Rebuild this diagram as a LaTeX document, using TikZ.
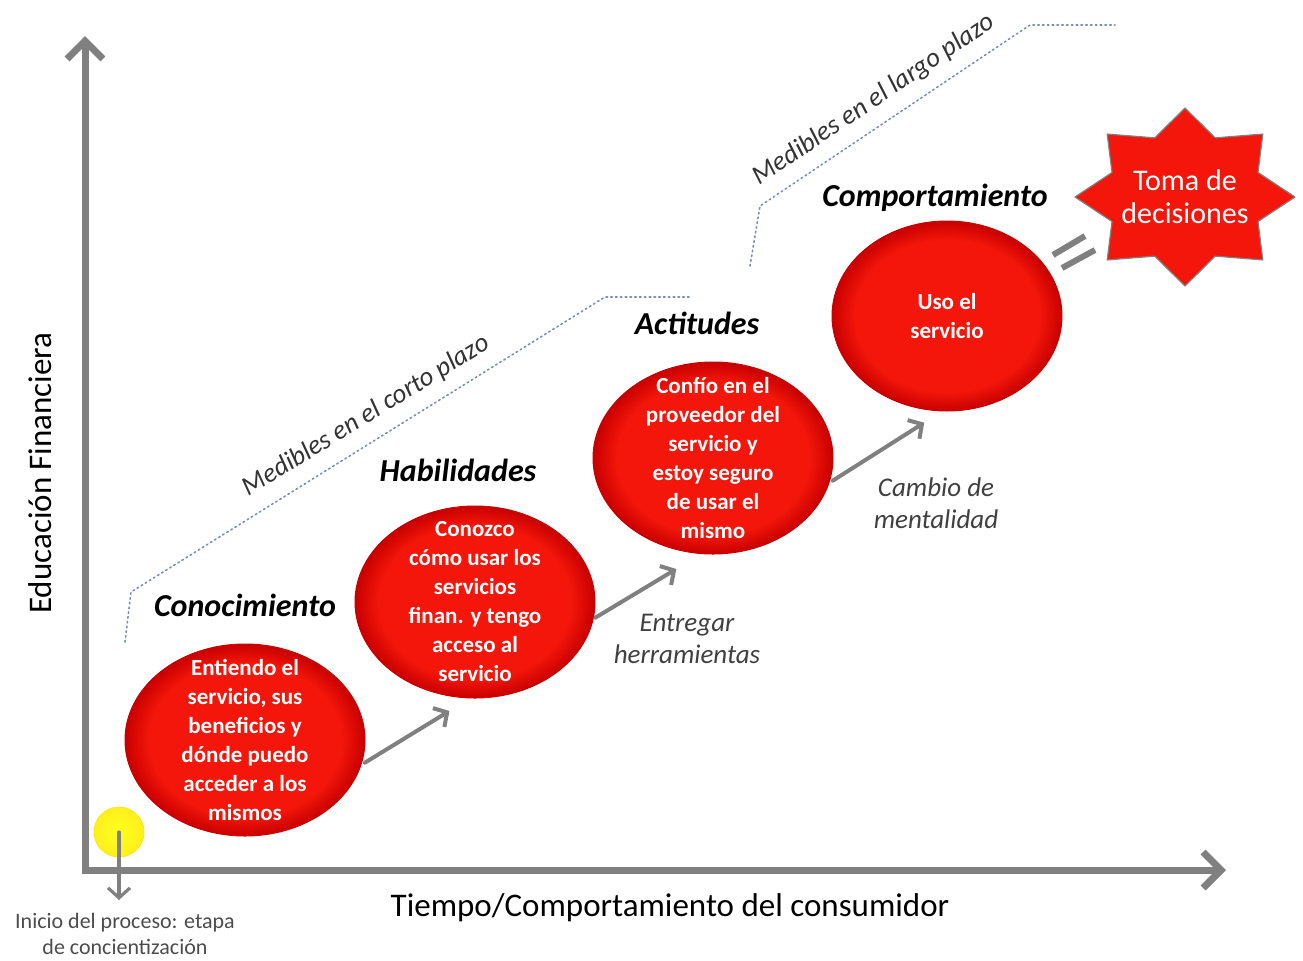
\documentclass[tikz,border=0pt]{standalone}
\usepackage{fontspec}
\setmainfont{Carlito}
\usetikzlibrary{arrows.meta,shapes.geometric}
\definecolor{rojo}{RGB}{244,22,10}
\definecolor{rojoosc}{RGB}{200,0,0}
\definecolor{gris}{RGB}{128,128,128}
\definecolor{azulpunto}{RGB}{120,142,180}
\definecolor{amarillo}{RGB}{255,255,30}
\pgfdeclareradialshading{bolaroja}{\pgfpoint{0bp}{0bp}}{color(0bp)=(rojo); color(20bp)=(rojo); color(25bp)=(rojoosc); color(50bp)=(rojoosc)}
\begin{document}
\begin{tikzpicture}[x=0.5pt, y=-0.5pt, line join=round, line cap=round, >={Straight Barb[length=5pt,width=11pt]},
  bola/.style={ellipse, draw=rojoosc, line width=0.5pt, shading=bolaroja, minimum width=120pt, minimum height=96pt, inner sep=0pt},
  txtbola/.style={text=white, font=\bfseries\fontsize{11.5}{14.5}\selectfont, align=center},
  titulo/.style={font=\bfseries\itshape\fontsize{16}{19}\selectfont},
  nota/.style={text=black!75, font=\itshape\fontsize{13.5}{16}\selectfont, align=center},
  medible/.style={text=black!80, font=\itshape\fontsize{13.5}{16}\selectfont},
  punteo/.style={draw=azulpunto, line width=0.8pt, dash pattern=on 0.8pt off 1.6pt},
  flecha/.style={draw=gris, line width=2pt, ->},
  eje/.style={draw=gris, line width=3.5pt, line cap=butt, line join=miter, >={Straight Barb[length=9pt,width=18pt]}, <->}]
\useasboundingbox (0,0) rectangle (1303,960);
% ejes
\coordinate (ytop) at (85,36);
\coordinate (O) at (85,870);
\coordinate (xfin) at (1226,870);
\draw[eje] (ytop) -- (O) -- (xfin);
\node[font=\fontsize{16.5}{19}\selectfont, rotate=90] (ylab) at (40,473) {Educación Financiera};
\node[font=\fontsize{16.5}{19}\selectfont] (xlab) at (670,908) {Tiempo/Comportamiento del consumidor};
% corto y largo plazo
\draw[punteo] (125,642) -- (131,592) -- (605,297) -- (690,297);
\draw[punteo] (750,266) -- (760,206) -- (1030,25) -- (1115,25);
\node[medible, rotate=31.6] (corto) at (366,416) {Medibles en el corto plazo};
\node[medible, rotate=34] (largo) at (874,100) {Medibles en el largo plazo};
% etapas
\node[bola] (conoc) at (245,740) {};
\node[txtbola] (tconoc) at (conoc.center) {Entiendo el\\servicio, sus\\beneficios y\\dónde puedo\\acceder a los\\mismos};
\node[titulo] (hconoc) at (245,605) {Conocimiento};
\node[bola] (habil) at (475,602) {};
\node[txtbola] (thabil) at (habil.center) {Conozco\\cómo usar los\\servicios\\finan. y tengo\\acceso al\\servicio};
\node[titulo] (hhabil) at (458,470) {Habilidades};
\node[bola] (actit) at (713,458) {};
\node[txtbola] (tactit) at (actit.center) {Confío en el\\proveedor del\\servicio y\\estoy seguro\\de usar el\\mismo};
\node[titulo] (hactit) at (697,323) {Actitudes};
\node[bola, minimum width=115pt, minimum height=95pt] (comp) at (947,316) {};
\node[txtbola] (tcomp) at (comp.center) {Uso el\\servicio};
\node[titulo] (hcomp) at (935,198) {Comportamiento};
\draw[flecha, shorten >=12pt, shorten <=2pt] (conoc.-12) -- (habil.267);
\draw[flecha, shorten >=14.5pt, shorten <=1pt] (habil.-8) -- (actit.263.5);
\draw[flecha, shorten >=10.5pt, shorten <=2pt] (actit.-12) -- (comp.267);
\node[nota] (entregar) at (687,639) {Entregar\\herramientas};
\node[nota] (cambio) at (936,503) {Cambio de\\mentalidad};
% estrella
\begin{scope}[shift={(1185,197)}]
\filldraw[draw=gris, fill=rojo, line width=0.6pt] (90:110 and 89) \foreach \a in {90,135,...,405}{ -- ({\a+22.5}:79 and 64) -- ({\a+45}:110 and 89)} -- cycle;
\end{scope}
\node[text=white, font=\fontsize{15}{16.5}\selectfont, align=center] (toma) at (1185,197) {Toma de\\decisiones};
\draw[gris, line width=3pt, line cap=butt] (1053,255) -- (1085,236) (1062,268) -- (1095,250);
% inicio
\node[circle, minimum size=25pt, inner sep=0pt, draw=amarillo!80!orange, inner color=amarillo, outer color=amarillo!88!orange] (inicio) at (119,832) {};
\coordinate (finicio) at (119,900);
\draw[gris, line width=1.6pt, ->] (inicio.center) -- (finicio);
\node[text=black!70, font=\fontsize{11}{13}\selectfont, align=center] (tinicio) at (125,934) {Inicio del proceso: etapa\\de concientización};
\end{tikzpicture}
\end{document}
